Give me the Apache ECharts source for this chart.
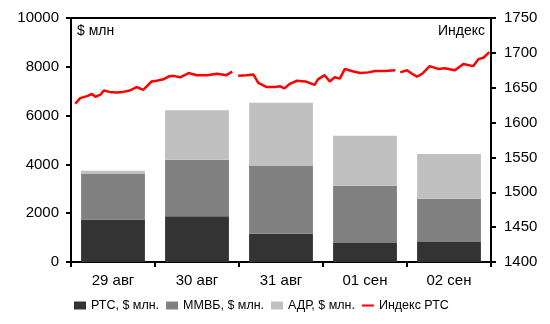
<!DOCTYPE html>
<html>
<head>
<meta charset="utf-8">
<script src="https://cdn.jsdelivr.net/npm/echarts@6/dist/echarts.min.js"></script>
<style>
  html, body { margin: 0; padding: 0; background: #fff; }
  #chart { width: 550px; height: 324px; }
</style>
</head>
<body>
<div id="chart"></div>
<script>
// Trading days
var days = ['29 авг', '30 авг', '31 авг', '01 сен', '02 сен'];

// Daily turnover by venue, $ млн
var rtsVolume  = [1740, 1880, 1160, 780, 820];
var micexVolume = [1870, 2310, 2800, 2350, 1770];
var adrVolume  = [130, 2030, 2570, 2040, 1840];

// Intraday RTS index: time in trading days from the start of 29 авг, null marks a break
var indexTime = [
  0.05, 0.07, 0.11, 0.19, 0.25, 0.29, 0.35, 0.39, 0.46, 0.54, 0.62, 0.70, 0.78, 0.86, 0.96,
  1.02, 1.10, 1.16, 1.22, 1.30, 1.40, 1.50, 1.62, 1.74, 1.85, 1.92, 1.95,
  1.99, 2.09, 2.17, 2.23, 2.33, 2.43, 2.49, 2.54, 2.61, 2.69, 2.79, 2.90, 2.94,
  3.02, 3.08, 3.14, 3.20, 3.26, 3.34, 3.44, 3.54, 3.62, 3.74, 3.86, 3.89,
  3.92, 4.00, 4.06, 4.12, 4.18, 4.27, 4.37, 4.45, 4.57, 4.67, 4.79, 4.85, 4.91, 4.98
];
var indexValue = [
  1627, 1629, 1635, 1638, 1641, 1637, 1640, 1646, 1644, 1643, 1644, 1646, 1651, 1647, 1659,
  1660, 1662, 1666, 1667, 1665, 1671, 1668, 1668, 1670, 1668, 1673, null,
  1667, 1668, 1669, 1657, 1651, 1651, 1652, 1649, 1656, 1660, 1659, 1654, 1662,
  1668, 1659, 1665, 1663, 1677, 1674, 1671, 1672, 1674, 1674, 1675, null,
  1672, 1675, 1670, 1666, 1670, 1681, 1677, 1678, 1675, 1684, 1681, 1691, 1693, 1701
];

var leftTicks = { min: 0, max: 10000, interval: 2000 };
var rightTicks = { min: 1400, max: 1750, interval: 50 };

var indexData = indexTime.map(function (t, i) {
  return [t, indexValue[i] === null ? '-' : indexValue[i]];
});

var FONT = '"Liberation Sans", Arial, sans-serif';
var axisLine = { show: true, lineStyle: { color: '#000', width: 2 } };
var plain = function (v) { return String(v); };

// Legend swatch for the index: a short thick stroke (tiny corner dots fix the bounding box)
var lineIcon = 'path://M0,0H0.01V0.01H0Z M0,3.2H14V5.8H0Z M13.99,8.99H14V9H13.99Z';

var chart = echarts.init(document.getElementById('chart'), null, { renderer: 'canvas' });
chart.setOption({
  animation: false,
  backgroundColor: '#fff',
  textStyle: { fontFamily: FONT, color: '#000' },
  grid: { left: 71, right: 59, top: 18, bottom: 62, containLabel: false },
  legend: {
    left: 69,
    top: 294,
    itemWidth: 12,
    itemHeight: 8,
    itemGap: 7,
    textStyle: { fontFamily: FONT, fontSize: 12.5, color: '#000' },
    data: [
      { name: 'РТС, $ млн.', icon: 'rect' },
      { name: 'ММВБ, $ млн.', icon: 'rect' },
      { name: 'АДР, $ млн.', icon: 'rect' },
      { name: 'Индекс РТС', icon: lineIcon }
    ]
  },
  graphic: [
    { type: 'text', left: 77, top: 24, style: { text: '$ млн', font: '14px ' + FONT, fill: '#000' } },
    { type: 'text', right: 65, top: 24, style: { text: 'Индекс', font: '14px ' + FONT, fill: '#000' } }
  ],
  xAxis: [
    {
      type: 'category',
      data: days,
      position: 'bottom',
      axisLine: axisLine,
      axisTick: { show: true, length: 5, lineStyle: { color: '#000', width: 2 } },
      axisLabel: { fontSize: 15, color: '#000', fontFamily: FONT, margin: 11 },
      splitLine: { show: false }
    },
    {
      type: 'value',
      min: 0,
      max: 5,
      position: 'top',
      axisLine: axisLine,
      axisTick: { show: false },
      axisLabel: { show: false },
      splitLine: { show: false }
    }
  ],
  yAxis: [
    {
      type: 'value',
      min: leftTicks.min,
      max: leftTicks.max,
      interval: leftTicks.interval,
      position: 'left',
      axisLine: axisLine,
      axisTick: { show: true, length: 5, lineStyle: { color: '#000', width: 2 } },
      axisLabel: { fontSize: 15, color: '#000', fontFamily: FONT, margin: 12, formatter: plain },
      splitLine: { show: false }
    },
    {
      type: 'value',
      min: rightTicks.min,
      max: rightTicks.max,
      interval: rightTicks.interval,
      position: 'right',
      axisLine: axisLine,
      axisTick: { show: true, length: 5, lineStyle: { color: '#000', width: 2 } },
      axisLabel: { fontSize: 15, color: '#000', fontFamily: FONT, margin: 13, formatter: plain },
      splitLine: { show: false }
    }
  ],
  series: [
    {
      name: 'РТС, $ млн.',
      type: 'bar',
      stack: 'volume',
      barCategoryGap: '24%',
      data: rtsVolume,
      itemStyle: { color: '#333333' }
    },
    {
      name: 'ММВБ, $ млн.',
      type: 'bar',
      stack: 'volume',
      data: micexVolume,
      itemStyle: { color: '#808080' }
    },
    {
      name: 'АДР, $ млн.',
      type: 'bar',
      stack: 'volume',
      data: adrVolume,
      itemStyle: { color: '#c0c0c0' }
    },
    {
      name: 'Индекс РТС',
      type: 'line',
      xAxisIndex: 1,
      yAxisIndex: 1,
      data: indexData,
      symbol: 'none',
      showSymbol: false,
      connectNulls: false,
      lineStyle: { color: '#ff0000', width: 2.5 },
      itemStyle: { color: '#ff0000' },
      z: 5
    }
  ]
});
</script>
</body>
</html>
